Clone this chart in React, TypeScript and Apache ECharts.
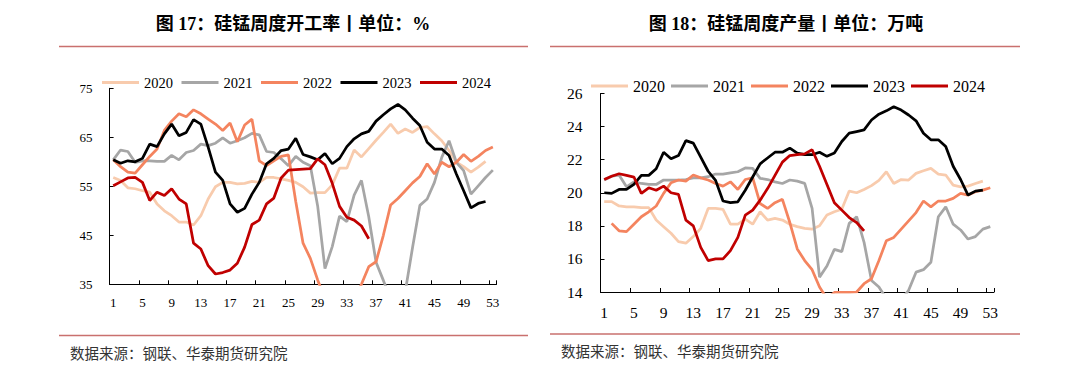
import React, { useEffect, useRef } from "react";
import * as echarts from "echarts";

const weeks = Array.from({ length: 53 }, (_, i) => String(i + 1));
const years = ["2020", "2021", "2022", "2023", "2024"];
const colors = ["#F8CBAD", "#A6A6A6", "#F4845F", "#000000", "#C00000"];

// 硅锰周度开工率 (%)
const rate2020 = [56.8, 56.2, 54.7, 54.5, 54.1, 53.8, 51.4, 50.0, 49.0, 47.7, 47.7, 47.1, 49.0, 52.4, 54.9, 55.8, 55.8, 55.5, 55.6, 56.0, 55.8, 56.8, 56.8, 56.5, 56.2, 55.8, 54.9, 53.6, 53.7, 53.7, 55.3, 58.7, 58.7, 62.4, 61.0, 62.7, 64.4, 66.0, 67.7, 65.8, 66.7, 66.0, 67.0, 67.2, 65.7, 64.3, 62.3, 59.9, 59.0, 57.9, 58.9, 60.1, null];
const rate2021 = [60.4, 62.4, 62.1, 59.9, 60.2, 60.2, 60.1, 60.1, 61.3, 60.4, 61.9, 62.3, 63.6, 63.3, 63.8, 64.9, 63.8, 64.3, 64.9, 65.8, 65.5, 62.1, 61.9, 60.6, 59.2, 61.1, 59.9, 59.2, 51.0, 38.2, 42.7, 48.9, 47.8, 53.2, 56.2, 48.8, 39.5, 35.8, 32.0, 31.5, 33.5, 42.5, 51.1, 52.4, 55.8, 60.9, 64.3, 59.9, 58.2, 53.4, 55.1, 56.8, 58.3];
const rate2022 = [60.4, 59.0, 57.9, 57.7, 59.4, 61.1, 62.6, 66.4, 68.3, 69.8, 69.2, 70.6, 69.8, 68.7, 67.7, 66.4, 67.9, 64.1, 67.5, 68.7, 60.2, 59.2, 60.2, 61.1, 61.4, 51.9, 43.4, 40.3, 35.9, 32.0, 30.0, 29.0, 30.0, 32.0, 35.0, 38.6, 39.6, 45.0, 51.2, 52.5, 54.1, 55.7, 57.0, 59.6, 57.5, 59.9, 59.0, 59.9, 61.5, 60.1, 61.1, 62.3, 63.0];
const rate2023 = [60.4, 59.7, 60.2, 60.0, 60.7, 63.6, 63.1, 65.7, 67.7, 65.3, 66.0, 68.6, 67.7, 63.0, 57.9, 56.2, 51.4, 49.7, 50.5, 53.4, 55.8, 59.6, 60.7, 62.3, 62.6, 64.8, 61.5, 61.0, 60.4, 61.7, 59.6, 60.7, 63.1, 64.7, 65.7, 66.2, 68.3, 69.6, 70.8, 71.7, 70.6, 68.9, 67.4, 64.0, 62.6, 62.6, 61.3, 57.5, 54.1, 50.6, 51.5, 51.9, null];
const rate2024 = [55.1, 55.9, 56.7, 56.8, 55.8, 52.1, 53.8, 53.1, 54.5, 52.4, 51.4, 43.4, 42.2, 38.8, 37.1, 37.4, 37.9, 39.3, 42.6, 47.2, 48.1, 51.4, 52.6, 56.7, 58.3, 58.4, 58.5, 58.6, 60.6, 59.4, 55.6, 50.9, 48.7, 48.1, 46.9, 44.3];

// 硅锰周度产量 (万吨)
const out2020 = [19.46, 19.46, 19.2, 19.15, 19.15, 19.1, 19.1, 18.35, 17.95, 17.55, 17.05, 16.95, 17.35, 17.85, 19.05, 19.05, 19.0, 18.1, 18.1, 18.4, 18.1, 18.85, 18.35, 18.45, 18.35, 18.1, 17.95, 17.85, 17.8, 18.0, 18.65, 18.85, 19.0, 20.1, 20.0, 20.2, 20.43, 20.75, 21.27, 20.56, 20.8, 20.77, 21.17, 21.33, 21.47, 21.13, 21.07, 20.46, 20.36, 20.4, 20.56, 20.7, null];
const out2021 = [20.77, 21.0, 21.07, 20.36, 20.66, 20.56, 20.5, 20.5, 20.77, 20.77, 20.77, 20.8, 20.9, 20.9, 20.97, 21.13, 21.13, 21.2, 21.27, 21.5, 21.47, 20.87, 20.8, 20.66, 20.56, 20.77, 20.7, 20.57, 19.05, 14.9, 15.57, 16.58, 16.44, 18.15, 18.55, 17.0, 14.7, 14.3, 13.6, 13.3, 13.5, 14.1, 15.2, 15.35, 15.8, 18.55, 19.15, 18.1, 17.75, 17.2, 17.35, 17.8, 17.95];
const out2022 = [null, 18.15, 17.7, 17.65, 18.1, 18.55, 18.85, 19.2, 19.96, 20.6, 20.77, 20.7, 21.07, 20.9, 20.77, 20.56, 20.4, 20.66, 20.2, 20.8, 20.9, 19.35, 19.05, 19.4, 19.6, 18.2, 16.6, 15.9, 15.35, 14.3, 13.6, 13.97, 13.97, 13.98, 14.0, 14.5, 14.8, 15.9, 17.1, 17.3, 17.8, 18.3, 18.8, 19.5, 19.15, 19.5, 19.5, 19.66, 19.96, 19.86, 20.06, 20.16, 20.3];
const out2023 = [20.0, 19.96, 20.2, 20.2, 20.5, 21.05, 21.05, 21.45, 22.45, 22.05, 22.25, 23.15, 23.0, 22.15, 21.3, 20.75, 19.5, 19.4, 19.45, 20.15, 20.95, 21.75, 22.1, 22.45, 22.45, 22.7, 22.4, 22.3, 22.3, 22.45, 22.2, 22.4, 23.1, 23.6, 23.7, 23.8, 24.4, 24.75, 24.95, 25.2, 25.0, 24.7, 24.35, 23.6, 23.2, 23.2, 22.8, 21.6, 20.8, 19.86, 20.1, 20.16, null];
const out2024 = [20.8, 21.0, 21.15, 21.05, 20.95, 19.96, 20.3, 20.15, 20.4, 20.0, 19.9, 18.35, 18.0, 16.7, 15.9, 16.0, 16.0, 16.5, 17.3, 18.65, 18.95, 19.55, 20.25, 21.05, 21.85, 22.25, 22.3, 22.35, 22.6, 21.6, 20.5, 19.4, 18.95, 18.5, 18.2, 17.7];

const rateSeries = [rate2020, rate2021, rate2022, rate2023, rate2024];
const outSeries = [out2020, out2021, out2022, out2023, out2024];

const titleLeft = "图 17：硅锰周度开工率丨单位：%";
const titleRight = "图 18：硅锰周度产量丨单位：万吨";
const sourceText = "数据来源：钢联、华泰期货研究院";

const SERIF = '"Liberation Serif", "Times New Roman", serif';
const TITLE_FONT = 'bold 18px "Liberation Serif", "Noto Sans CJK SC", sans-serif';
const SOURCE_FONT = '14.5px "Noto Sans CJK SC", sans-serif';
const RED_LINE = "#C9706E";

function makeX(gridIndex: number, fontSize: number) {
  return {
    type: "category",
    gridIndex,
    data: weeks,
    boundaryGap: true,
    axisLine: { show: true, lineStyle: { color: "#000", width: 1 } },
    axisTick: { show: true, inside: true, length: 4, interval: 3, lineStyle: { color: "#000" } },
    axisLabel: { interval: 3, fontSize, fontFamily: SERIF, color: "#000", margin: 12 },
    splitLine: { show: false },
  };
}

function makeY(gridIndex: number, min: number, max: number, interval: number, fontSize: number, margin: number) {
  return {
    type: "value",
    gridIndex,
    min,
    max,
    interval,
    axisLine: { show: true, lineStyle: { color: "#000", width: 1 } },
    axisTick: { show: true, inside: true, length: 4, lineStyle: { color: "#000" } },
    axisLabel: { fontSize, fontFamily: SERIF, color: "#000", margin },
    splitLine: { show: false },
  };
}

function makeSeries(gridIndex: number, sets: (number | null)[][]) {
  return years.map((y, i) => ({
    type: "line",
    name: y,
    xAxisIndex: gridIndex,
    yAxisIndex: gridIndex,
    data: sets[i],
    symbol: "none",
    showSymbol: false,
    clip: true,
    connectNulls: false,
    lineStyle: { width: 2.75, color: colors[i] },
    itemStyle: { color: colors[i] },
    silent: true,
  }));
}

export default function App() {
  const ref = useRef<HTMLDivElement>(null);
  useEffect(() => {
    if (!ref.current) return;
    const chart = echarts.init(ref.current, undefined, { renderer: "svg" });
    chart.setOption({
      animation: false,
      backgroundColor: "#fff",
      grid: [
        { left: 109.6, top: 88.3, width: 386.9, height: 196, containLabel: false, outerBoundsMode: "none" },
        { left: 600.5, top: 93.5, width: 393.5, height: 198.5, containLabel: false, outerBoundsMode: "none" },
      ],
      legend: [
        {
          data: years,
          left: 102,
          top: 75,
          padding: 0,
          icon: "rect",
          itemWidth: 37,
          itemHeight: 3,
          itemGap: 8.5,
          textStyle: { fontSize: 14.5, fontFamily: SERIF, color: "#000" },
          selectedMode: false,
        },
        {
          data: years,
          left: 591,
          top: 78,
          padding: 0,
          icon: "rect",
          itemWidth: 37,
          itemHeight: 3,
          itemGap: 6,
          textStyle: { fontSize: 16, fontFamily: SERIF, color: "#000" },
          selectedMode: false,
        },
      ],
      xAxis: [makeX(0, 13), makeX(1, 15.5)],
      yAxis: [makeY(0, 35, 75, 10, 13, 17), makeY(1, 14, 26, 2, 15.5, 18)],
      series: [...makeSeries(0, rateSeries), ...makeSeries(1, outSeries)],
      graphic: [
        {
          type: "text",
          style: { text: titleLeft, x: 293, y: 24, font: TITLE_FONT, fill: "#000", textAlign: "center", textVerticalAlign: "middle", align: "center", verticalAlign: "middle" },
        },
        {
          type: "text",
          style: { text: titleRight, x: 786, y: 24, font: TITLE_FONT, fill: "#000", textAlign: "center", textVerticalAlign: "middle", align: "center", verticalAlign: "middle" },
        },
        { type: "line", shape: { x1: 59, y1: 46.5, x2: 528, y2: 46.5 }, style: { stroke: RED_LINE, lineWidth: 1.5 } },
        { type: "line", shape: { x1: 550, y1: 46.5, x2: 1020, y2: 46.5 }, style: { stroke: RED_LINE, lineWidth: 1.5 } },
        { type: "line", shape: { x1: 59, y1: 335.5, x2: 528, y2: 335.5 }, style: { stroke: RED_LINE, lineWidth: 1.5 } },
        { type: "line", shape: { x1: 550, y1: 334, x2: 1020, y2: 334 }, style: { stroke: RED_LINE, lineWidth: 1.5 } },
        {
          type: "text",
          style: { text: sourceText, x: 70, y: 352, font: SOURCE_FONT, fill: "#333", textAlign: "left", textVerticalAlign: "middle", align: "left", verticalAlign: "middle" },
        },
        {
          type: "text",
          style: { text: sourceText, x: 561, y: 350, font: SOURCE_FONT, fill: "#333", textAlign: "left", textVerticalAlign: "middle", align: "left", verticalAlign: "middle" },
        },
      ],
    });
    return () => chart.dispose();
  }, []);
  return <div ref={ref} style={{ position: "fixed", left: 0, top: 0, width: 1080, height: 371, background: "#fff" }} />;
}
